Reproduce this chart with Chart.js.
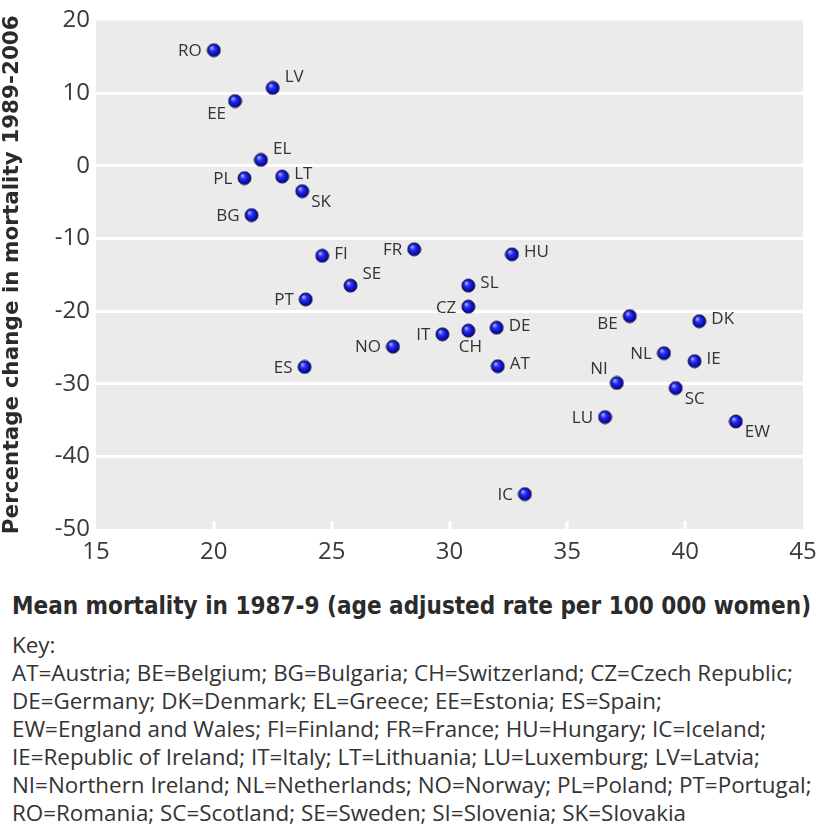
<!DOCTYPE html>
<html>
<head>
<meta charset="utf-8">
<script src="https://cdn.jsdelivr.net/npm/chart.js@4.4.1/dist/chart.umd.min.js"></script>
<style>
  html, body { margin: 0; padding: 0; background: #ffffff; }
  body { width: 820px; height: 828px; overflow: hidden; font-family: "Open Sans", sans-serif; color: #333; }
  #wrap { position: relative; width: 820px; height: 575px; }
  #xtitle { position: absolute; left: 12px; top: 592px; font-family: "DejaVu Sans"; font-stretch: condensed; font-weight: bold; font-size: 24px; line-height: 28px; color: #2b2b2b; white-space: nowrap; }
  #key { position: absolute; left: 12px; top: 631px; font-family: "Open Sans"; font-size: 22.4px; line-height: 28px; color: #333; white-space: nowrap; }
</style>
</head>
<body>
<div id="wrap"><canvas id="c" width="820" height="575"></canvas></div>
<div id="xtitle">Mean mortality in 1987-9 (age adjusted rate per 100 000 women)</div>
<div id="key">Key:<br>
AT=Austria; BE=Belgium; BG=Bulgaria; CH=Switzerland; CZ=Czech Republic;<br>
DE=Germany; DK=Denmark; EL=Greece; EE=Estonia; ES=Spain;<br>
EW=England and Wales; FI=Finland; FR=France; HU=Hungary; IC=Iceland;<br>
IE=Republic of Ireland; IT=Italy; LT=Lithuania; LU=Luxemburg; LV=Latvia;<br>
NI=Northern Ireland; NL=Netherlands; NO=Norway; PL=Poland; PT=Portugal;<br>
RO=Romania; SC=Scotland; SE=Sweden; SI=Slovenia; SK=Slovakia</div>
<script>
// ---- data ----
const countries = ["RO","LV","EE","EL","PL","LT","SK","BG","FI","FR","HU","SE","PT","NO","ES","SL","CZ","IT","CH","DE","AT","BE","DK","NL","IE","NI","SC","LU","EW","IC"];
const meanMortality = [20.0,22.5,20.9,22.0,21.3,22.9,23.75,21.6,24.6,28.5,32.65,25.8,23.9,27.6,23.85,30.8,30.8,29.7,30.8,32.0,32.05,37.65,40.6,39.1,40.4,37.1,39.6,36.6,42.15,33.2];
const pctChange = [15.9,10.7,8.9,0.8,-1.7,-1.5,-3.5,-6.8,-12.4,-11.5,-12.2,-16.5,-18.4,-24.9,-27.7,-16.5,-19.4,-23.2,-22.7,-22.3,-27.6,-20.7,-21.4,-25.8,-26.9,-29.9,-30.6,-34.6,-35.2,-45.2];
// label placement side for each country (style, not data)
const labelSide = ["l","ur","ll","ur","l","r","lr","l","r","l","r","ur","l","l","l","r","l","l","b","r","r","bl","r","l","r","ul","lr","l","lr","l"];
const xTicks = [15,20,25,30,35,40,45];
const yTicks = [20,10,0,-10,-20,-30,-40,-50];

// sphere point image
function makeSphere(r) {
  const c = document.createElement('canvas');
  const s = r * 2 + 2;
  c.width = s; c.height = s;
  const g = c.getContext('2d');
  const cx = s / 2, cy = s / 2;
  const grad = g.createRadialGradient(cx - r * 0.35, cy - r * 0.4, r * 0.1, cx, cy, r);
  grad.addColorStop(0, '#9aa8ff');
  grad.addColorStop(0.35, '#2a2ef0');
  grad.addColorStop(0.8, '#0a0ab8');
  grad.addColorStop(1, '#05056a');
  g.beginPath(); g.arc(cx, cy, r, 0, Math.PI * 2);
  g.fillStyle = grad; g.fill();
  g.lineWidth = 1; g.strokeStyle = '#1a1a40'; g.stroke();
  return c;
}
const sphere = makeSphere(6.5);

const points = meanMortality.map((x, i) => ({ x: x, y: pctChange[i] }));

const bgPlugin = {
  id: 'bg',
  beforeDraw(chart) {
    const a = chart.chartArea, ctx = chart.ctx;
    ctx.save();
    ctx.fillStyle = '#ebebeb';
    ctx.fillRect(a.left, a.top, a.right - a.left, a.bottom - a.top);
    ctx.restore();
  },
  beforeDatasetsDraw(chart) {
    const a = chart.chartArea, ctx = chart.ctx, xs = chart.scales.x;
    ctx.save();
    ctx.strokeStyle = '#ffffff'; ctx.lineWidth = 3;
    xTicks.forEach(v => {
      if (v === xTicks[0] || v === xTicks[xTicks.length - 1]) return;
      const px = Math.round(xs.getPixelForValue(v));
      ctx.beginPath(); ctx.moveTo(px, a.bottom); ctx.lineTo(px, a.bottom - 8); ctx.stroke();
    });
    ctx.restore();
  }
};

const labelPlugin = {
  id: 'labels',
  afterDatasetsDraw(chart) {
    const ctx = chart.ctx, meta = chart.getDatasetMeta(0);
    ctx.save();
    ctx.font = '17px "Open Sans"';
    ctx.fillStyle = '#333';
    meta.data.forEach((el, i) => {
      const side = labelSide[i], t = countries[i];
      let x = el.x, y = el.y, align = 'left', dy = 0, dx = 0;
      switch (side) {
        case 'l': align = 'right'; dx = -12; dy = 1; break;
        case 'r': align = 'left'; dx = 12; dy = -2; break;
        case 'ur': align = 'left'; dx = 12; dy = -11; break;
        case 'ul': align = 'right'; dx = -9; dy = -14; break;
        case 'll': align = 'right'; dx = -9; dy = 13; break;
        case 'lr': align = 'left'; dx = 9; dy = 11; break;
        case 'bl': align = 'right'; dx = -12; dy = 8; break;
        case 'b': align = 'center'; dx = 2; dy = 17; break;
      }
      ctx.textAlign = align; ctx.textBaseline = 'middle';
      ctx.fillText(t, x + dx, y + dy);
    });
    ctx.restore();
  }
};

new Chart(document.getElementById('c'), {
  type: 'scatter',
  data: { datasets: [{ data: points, pointStyle: sphere, pointRadius: 7, pointHoverRadius: 7 }] },
  options: {
    responsive: false,
    animation: false,
    events: [],
    layout: { padding: { top: 18, right: 17, left: 0, bottom: 0 } },
    plugins: { legend: { display: false }, tooltip: { enabled: false } },
    scales: {
      x: {
        type: 'linear', min: 15, max: 45,
        afterBuildTicks: s => { s.ticks = xTicks.map(v => ({ value: v })); },
        ticks: { font: { family: 'Open Sans', size: 24 }, color: '#3a3a3a', padding: 1, maxRotation: 0 },
        grid: { display: false },
        border: { display: false },
        afterFit: s => { s.height = 46; }
      },
      y: {
        type: 'linear', min: -50, max: 20,
        afterBuildTicks: s => { s.ticks = yTicks.map(v => ({ value: v })); },
        ticks: { font: { family: 'Open Sans', size: 24 }, color: '#3a3a3a', padding: 6 },
        grid: {
          color: c => (c.tick && (c.tick.value === 20 || c.tick.value === -50)) ? 'rgba(0,0,0,0)' : '#ffffff',
          lineWidth: 3, drawTicks: false
        },
        border: { display: false },
        title: { display: true, text: 'Percentage change in mortality 1989-2006', font: { family: 'DejaVu Sans', size: 21.5, weight: 'bold' }, color: '#2b2b2b', padding: { top: 0, bottom: 2 } },
        afterFit: s => { s.width = 96; }
      }
    }
  },
  plugins: [bgPlugin, labelPlugin]
});
</script>
</body>
</html>
